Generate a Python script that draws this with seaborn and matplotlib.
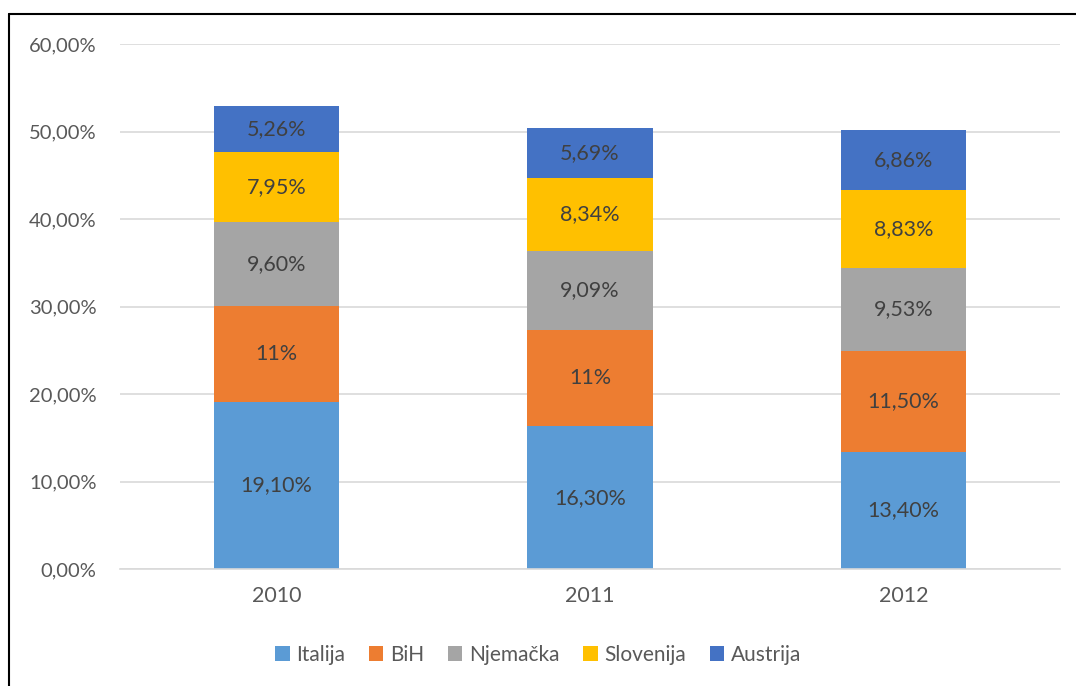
import matplotlib
matplotlib.use("Agg")
import matplotlib.pyplot as plt
import seaborn as sns
import numpy as np
from matplotlib.lines import Line2D
from matplotlib.patches import Patch

years = ["2010", "2011", "2012"]
series_names = ["Italija", "BiH", "Njemačka", "Slovenija", "Austrija"]
italija = [19.10, 16.30, 13.40]
bih = [11.0, 11.0, 11.50]
njemacka = [9.60, 9.09, 9.53]
slovenija = [7.95, 8.34, 8.83]
austrija = [5.26, 5.69, 6.86]
italija_labels = ["19,10%", "16,30%", "13,40%"]
bih_labels = ["11%", "11%", "11,50%"]
njemacka_labels = ["9,60%", "9,09%", "9,53%"]
slovenija_labels = ["7,95%", "8,34%", "8,83%"]
austrija_labels = ["5,26%", "5,69%", "6,86%"]
yticks = [0, 10, 20, 30, 40, 50, 60]
ytick_labels = ["0,00%", "10,00%", "20,00%", "30,00%", "40,00%", "50,00%", "60,00%"]

colors = ["#5B9BD5", "#ED7D31", "#A5A5A5", "#FFC000", "#4472C4"]
values = [italija, bih, njemacka, slovenija, austrija]
labels = [italija_labels, bih_labels, njemacka_labels, slovenija_labels, austrija_labels]

sns.set_style("white")
plt.rcParams['font.family'] = ['Lato', 'DejaVu Sans']

fig = plt.figure(figsize=(10.76, 6.86), dpi=100)
ax = fig.add_axes([120/1076, 1 - 569/686, 940/1076, 525/686])

bottom = np.zeros(3)
for name, vals, col, labs in zip(series_names, values, colors, labels):
    sns.barplot(x=years, y=vals, bottom=bottom, color=col, width=0.4,
                ax=ax, label=name, saturation=1, edgecolor="none")
    cont = ax.containers[-1]
    ax.bar_label(cont, labels=labs, label_type="center", fontsize=15.5, color="#404040")
    bottom = bottom + np.array(vals)

ax.set_ylim(0, 60)
ax.set_yticks(yticks)
ax.set_yticklabels(ytick_labels)
ax.set_xlim(-0.5, 2.5)
ax.yaxis.grid(True, color="#D9D9D9", linewidth=1.2)
ax.set_axisbelow(True)
for s in ax.spines.values():
    s.set_visible(False)
ax.spines["bottom"].set_visible(True)
ax.spines["bottom"].set_color("#D9D9D9")
ax.spines["bottom"].set_linewidth(1.2)
ax.tick_params(axis="x", length=0, labelsize=15.5, labelcolor="#595959", pad=12)
ax.tick_params(axis="y", length=0, labelsize=14.5, labelcolor="#595959", pad=17)
ax.set_xlabel("")
ax.set_ylabel("")

handles = [Patch(facecolor=c, edgecolor="none") for c in colors]
leg = fig.legend(handles, series_names, loc="center", bbox_to_anchor=(0.5, 1 - 655/686),
                 ncol=5, frameon=False, fontsize=15, handlelength=0.7, handleheight=0.7,
                 handletextpad=0.3, columnspacing=1.15, labelcolor="#595959")
if ax.get_legend() is not None:
    ax.get_legend().remove()

# outer frame (left and top edges visible)
fig.add_artist(Line2D([9/1076, 9/1076], [0, 1 - 14/686], color="black", linewidth=1.5, transform=fig.transFigure))
fig.add_artist(Line2D([9/1076, 1], [1 - 14/686, 1 - 14/686], color="black", linewidth=1.5, transform=fig.transFigure))

fig.savefig("out.png", dpi=100)
